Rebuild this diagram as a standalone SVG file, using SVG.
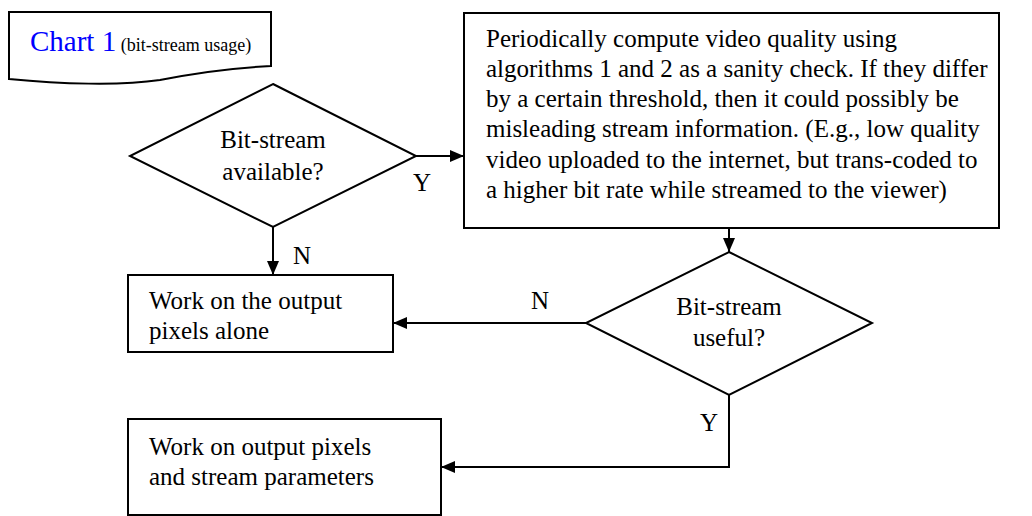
<svg xmlns="http://www.w3.org/2000/svg" width="1032" height="516" viewBox="0 0 1032 516">
  <defs>
    <marker id="arrow" viewBox="0 0 14 12" refX="14" refY="6" markerWidth="14" markerHeight="12" markerUnits="userSpaceOnUse" orient="auto">
      <path d="M0,0 L14,6 L0,12 Z" fill="#000"/>
    </marker>
    <style>
      .shape { fill: #fff; stroke: #000; stroke-width: 2; }
      .txt { font-family: "Liberation Serif", "Times New Roman", serif; font-size: 25px; fill: #000; }
      .mid { text-anchor: middle; }
      .link { fill: none; stroke: #000; stroke-width: 2; }
    </style>
  </defs>
  <rect width="1032" height="516" fill="#fff"/>

  <!-- chart title, document shape -->
  <g id="title">
    <path class="shape" d="M9,12 H271 V66 C 230,68 190,74 160,80 C 120,86 60,84 9,79 Z"/>
    <text x="30" y="51" font-family="'Liberation Serif', 'Times New Roman', serif"><tspan font-size="29" fill="#0000ff">Chart 1</tspan><tspan font-size="18" fill="#000"> (bit-stream usage)</tspan></text>
  </g>

  <!-- decision: bit-stream available -->
  <g id="available">
    <polygon class="shape" points="273,84 416,156 273,227 130,156"/>
    <text class="txt mid" x="273" y="148">Bit-stream</text>
    <text class="txt mid" x="273" y="180">available?</text>
  </g>

  <!-- sanity check process -->
  <g id="sanity">
    <rect class="shape" x="464" y="13" width="535" height="215"/>
    <text class="txt" x="486" y="47">Periodically compute video quality using</text>
    <text class="txt" x="486" y="77">algorithms 1 and 2 as a sanity check. If they differ</text>
    <text class="txt" x="486" y="107">by a certain threshold, then it could possibly be</text>
    <text class="txt" x="486" y="137">misleading stream information. (E.g., low quality</text>
    <text class="txt" x="486" y="168">video uploaded to the internet, but trans-coded to</text>
    <text class="txt" x="486" y="198">a higher bit rate while streamed to the viewer)</text>
  </g>

  <!-- pixels only -->
  <g id="pixels">
    <rect class="shape" x="128" y="275" width="265" height="77"/>
    <text class="txt" x="149" y="309">Work on the output</text>
    <text class="txt" x="149" y="339">pixels alone</text>
  </g>

  <!-- decision: bit-stream useful -->
  <g id="useful">
    <polygon class="shape" points="729,252 872,323 729,395 586,323"/>
    <text class="txt mid" x="729" y="315">Bit-stream</text>
    <text class="txt mid" x="729" y="346">useful?</text>
  </g>

  <!-- pixels and stream parameters -->
  <g id="params">
    <rect class="shape" x="128" y="419" width="313" height="96"/>
    <text class="txt" x="149" y="455">Work on output pixels</text>
    <text class="txt" x="149" y="485">and stream parameters</text>
  </g>

  <!-- connectors -->
  <g id="connectors">
    <line class="link" x1="416" y1="156" x2="464" y2="156" marker-end="url(#arrow)"/>
    <line class="link" x1="273" y1="227" x2="273" y2="275" marker-end="url(#arrow)"/>
    <line class="link" x1="729" y1="228" x2="729" y2="252" marker-end="url(#arrow)"/>
    <line class="link" x1="586" y1="323" x2="393" y2="323" marker-end="url(#arrow)"/>
    <polyline class="link" points="729,395 729,467 441,467" marker-end="url(#arrow)"/>
    <text class="txt" x="413" y="191">Y</text>
    <text class="txt" x="293" y="264">N</text>
    <text class="txt" x="531" y="309">N</text>
    <text class="txt" x="700" y="431">Y</text>
  </g>
</svg>
